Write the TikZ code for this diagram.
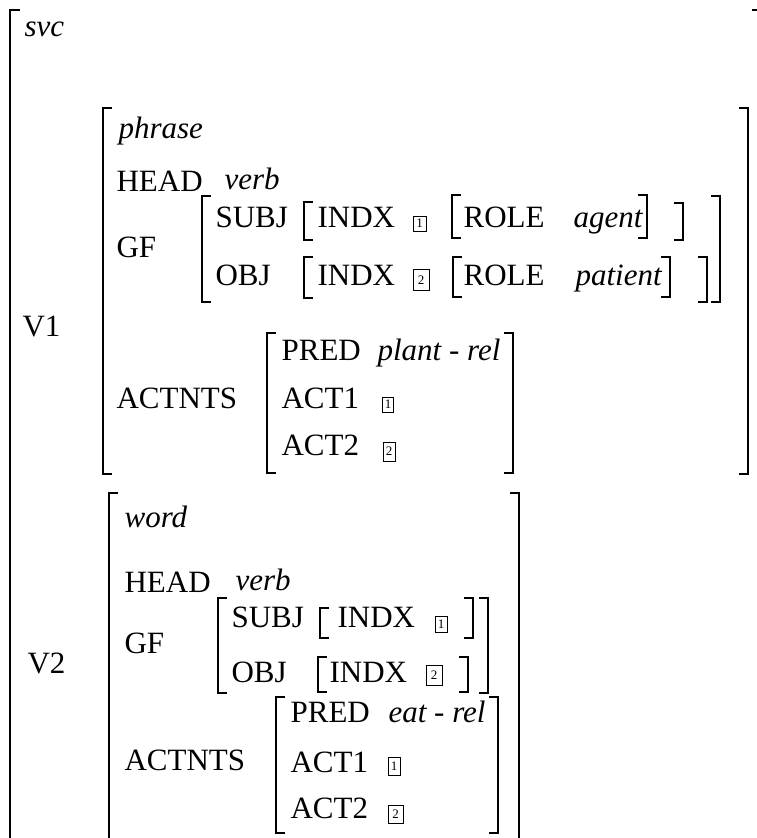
\documentclass[tikz,border=0pt]{standalone}
\usepackage{fontspec}
\setmainfont{Liberation Serif}
\newcommand\LB[3]{\draw ({#1+9},#2) -- (#1,#2) -- (#1,#3) -- ({#1+9},#3);}
\newcommand\RB[3]{\draw ({#1-9},#2) -- (#1,#2) -- (#1,#3) -- ({#1-9},#3);}
\begin{document}
\begin{tikzpicture}[x=1pt,y=-1pt,line width=1.2pt,
  lab/.style={anchor=base west,inner sep=0pt,font=\fontsize{31}{31}\selectfont},
  ilab/.style={anchor=base west,inner sep=0pt,font=\fontsize{31}{31}\selectfont\itshape},
  boxnum/.style={draw,line width=0.7pt,inner sep=0pt,font=\fontsize{13}{13}\selectfont}]
\useasboundingbox (0,0) rectangle (757,838);
% outer
\draw (20,10) -- (10,10) -- (10,850);
\draw (752,10) -- (758,10);
\node[ilab] (svc) at (24,36) {svc};
\node[lab] (v1) at (22,336) {V1};
\node[lab] (v2) at (27,673) {V2};
% V1
\LB{103}{108}{474}
\RB{748}{108}{474}
\node[ilab] (phrase) at (118,138) {phrase};
\node[lab] (head1) at (116,191) {HEAD};
\node[ilab] (verb1) at (224,189) {verb};
\node[lab] (gf1) at (116,257) {GF};
\LB{202}{196}{302}
\RB{720}{196}{302}
\node[lab] (subj1) at (215,227) {SUBJ};
\LB{304}{202}{240}
\node[lab] (indx1a) at (317,227) {INDX};
\node[boxnum,minimum width=13pt,minimum height=15pt] (b1) at (419.5,223.5) {1};
\LB{452}{195}{238}
\node[lab] (role1a) at (463,227) {ROLE};
\node[ilab] (agent) at (573,227) {agent};
\RB{647}{195}{238}
\RB{683}{203}{240}
\node[lab] (obj1) at (215,285) {OBJ};
\LB{304}{257}{298}
\node[lab] (indx1b) at (317,285) {INDX};
\node[boxnum,minimum width=16pt,minimum height=21pt] (b2) at (421,280) {2};
\LB{453}{257}{297}
\node[lab] (role1b) at (463,285) {ROLE};
\node[ilab] (patient) at (575,285) {patient};
\RB{670}{257}{297}
\RB{707}{257}{302}
\node[lab] (actnts1) at (116,408) {ACTNTS};
\LB{267}{333}{473}
\RB{513}{333}{473}
\node[lab] (pred1) at (281,360) {PRED};
\node[ilab] (prel) at (377,360) {plant - rel};
\node[lab] (act11) at (281,408) {ACT1};
\node[boxnum,minimum width=11pt,minimum height=15pt] (b3) at (388,404.5) {1};
\node[lab] (act21) at (281,455) {ACT2};
\node[boxnum,minimum width=12pt,minimum height=19pt] (b4) at (389,451.5) {2};
% V2
\draw (118,493) -- (109,493) -- (109,850);
\draw (510,493) -- (519,493) -- (519,850);
\node[ilab] (word) at (124,527) {word};
\node[lab] (head2) at (124,592) {HEAD};
\node[ilab] (verb2) at (235,590) {verb};
\node[lab] (gf2) at (124,653) {GF};
\LB{218}{598}{693}
\RB{488}{598}{693}
\node[lab] (subj2) at (231,627) {SUBJ};
\LB{320}{608}{638}
\node[lab] (indx2a) at (337,627) {INDX};
\node[boxnum,minimum width=12pt,minimum height=16pt] (b5) at (441,624) {1};
\RB{473}{598}{638}
\node[lab] (obj2) at (231,682) {OBJ};
\LB{318}{657}{692}
\node[lab] (indx2b) at (329,682) {INDX};
\node[boxnum,minimum width=16pt,minimum height=20pt] (b6) at (434,675) {2};
\RB{468}{657}{692}
\node[lab] (actnts2) at (124,770) {ACTNTS};
\LB{276}{697}{833}
\RB{498}{697}{833}
\node[lab] (pred2) at (290,722) {PRED};
\node[ilab] (erel) at (388,722) {eat - rel};
\node[lab] (act12) at (290,772) {ACT1};
\node[boxnum,minimum width=12pt,minimum height=18pt] (b7) at (394,766) {1};
\node[lab] (act22) at (290,818) {ACT2};
\node[boxnum,minimum width=15pt,minimum height=18pt] (b8) at (395.5,814) {2};
\end{tikzpicture}
\end{document}
